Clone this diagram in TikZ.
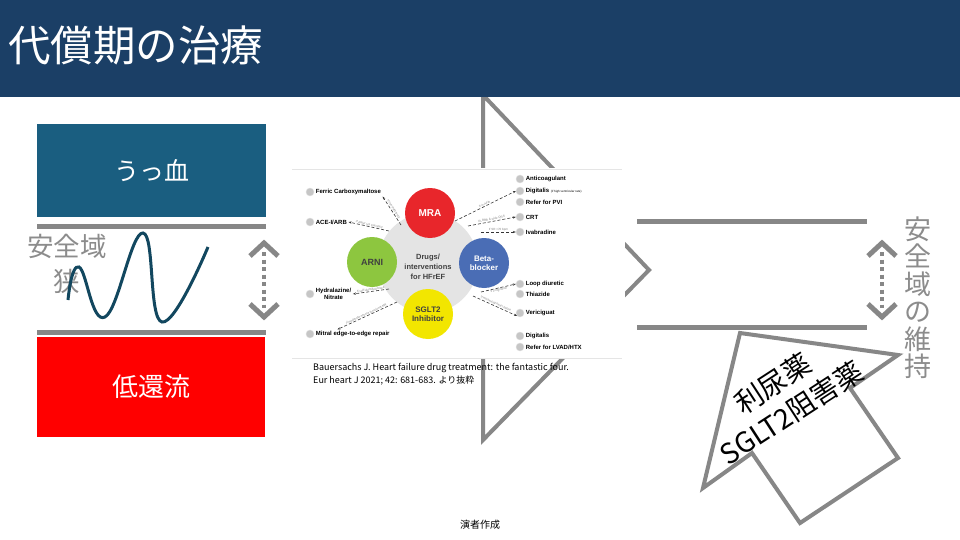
\documentclass[tikz,border=0pt]{standalone}
\usepackage{fontspec}
\setmainfont{Liberation Sans}
\newfontfamily\jp{Noto Sans CJK JP}
\usetikzlibrary{calc,arrows.meta}

\definecolor{headblue}{HTML}{1B3F66}
\definecolor{congblue}{HTML}{1A5E80}
\definecolor{wavecol}{HTML}{12475F}
\definecolor{linegray}{HTML}{878787}
\definecolor{textgray}{HTML}{8C8C8C}
\definecolor{mrared}{HTML}{E8262B}
\definecolor{arnigreen}{HTML}{8DC63F}
\definecolor{betablue}{HTML}{4A6DB5}
\definecolor{sgltyellow}{HTML}{F2E600}
\definecolor{hubgray}{HTML}{E4E4E4}

\begin{document}
\begin{tikzpicture}[x=1pt,y=-1pt,
    gapline/.style={linegray,line width=5pt},
    chev/.style={linegray,line width=5pt},
    dots/.style={linegray,line width=4pt,dash pattern=on 4pt off 3.5pt},
    outline/.style={linegray,line width=4pt,line join=miter},
    drugdot/.style={circle,inner sep=0pt,minimum size=50pt,text=white,align=center,
        font=\bfseries\fontsize{8}{9}\selectfont},
    icon/.style={circle,fill=gray!45,draw=gray!25,line width=0.4pt,inner sep=0pt,minimum size=8pt},
    druglbl/.style={anchor=west,inner sep=1.5pt,font=\bfseries\fontsize{6}{7.5}\selectfont},
    cond/.style={sloped,above,inner sep=0.5pt,font=\fontsize{3}{3.5}\selectfont,text=gray},
    dasharr/.style={densely dashed,-{Stealth[length=3pt]},line width=0.6pt,black!80}
]
\useasboundingbox (0,0) rectangle (960,540);
\fill[white] (0,0) rectangle (960,540);

% big arrow head behind the figure
\draw[outline] (483,95) -- (649,270) -- (483,440) -- cycle;

% header
\fill[headblue] (0,0) rectangle (960,97);
\node[anchor=west,inner sep=0pt,text=white,font=\jp\fontsize{42.5}{42.5}\selectfont] (title) at (8,45) {代償期の治療};

% left: narrow safe zone
\node[fill=congblue,minimum width=229pt,minimum height=93pt,inner sep=0pt,text=white,
    font=\jp\fontsize{25}{25}\selectfont] (cong) at (151.5,170.5) {うっ血};
\node[fill=red,minimum width=228pt,minimum height=100pt,inner sep=0pt,text=white,
    font=\jp\fontsize{26}{26}\selectfont] (lowflow) at (151,387) {低還流};
\fill[linegray] (37,224) rectangle (266,229);
\fill[linegray] (37,330) rectangle (266,335);
\node[text=textgray,align=center,inner sep=0pt,font=\jp\fontsize{26.5}{35}\selectfont] (narrow) at (67,264) {安全域\\狭};
\draw[wavecol,line width=3pt] plot[smooth,tension=0.75] coordinates
    {(68,300) (79,267) (105,317) (143,233) (162,322) (208,247)};

\coordinate (ltop) at (264,243);
\coordinate (lbot) at (264,317);
\draw[chev] ($(ltop)+(-14,13)$) -- (ltop) -- ($(ltop)+(14,13)$);
\draw[chev] ($(lbot)+(-14,-13)$) -- (lbot) -- ($(lbot)+(14,-13)$);
\draw[dots] ($(ltop)+(0,9)$) -- ($(lbot)+(0,-9)$);

% figure (Bauersachs)
\fill[white] (290,168) rectangle (625,358);
\draw[gray!20,line width=0.6pt] (292,169) -- (622,169);
\draw[gray!20,line width=0.6pt] (292,358) -- (622,358);
\fill[hubgray] (428,263) circle[radius=50pt];
\node[drugdot,fill=mrared,font=\bfseries\fontsize{10}{11}\selectfont] (mra) at (430,213) {MRA};
\node[drugdot,fill=arnigreen,text=black!75,font=\bfseries\fontsize{9}{10}\selectfont] (arni) at (372,262) {ARNI};
\node[drugdot,fill=betablue] (beta) at (484,263) {Beta-\\blocker};
\node[drugdot,fill=sgltyellow,text=black!75] (sglt) at (428,314) {SGLT2\\Inhibitor};
\node[align=center,text=black!75,font=\bfseries\fontsize{7.5}{10}\selectfont] (hub) at (428,267) {Drugs/\\interventions\\for HFrEF};

\node[icon] (iferric) at (310,192) {};
\node[druglbl] (ferric) at (iferric.east) {Ferric Carboxymaltose};
\node[icon] (iace) at (310,222) {};
\node[druglbl] (ace) at (iace.east) {ACE-I/ARB};
\node[icon] (ihydra) at (310,294) {};
\node[druglbl,align=center] (hydra) at (ihydra.east) {Hydralazine/\\Nitrate};
\node[icon] (imitral) at (310,334) {};
\node[druglbl] (mitral) at (imitral.east) {Mitral edge-to-edge repair};

\node[icon] (ianti) at (520,179) {};
\node[druglbl] (anti) at (ianti.east) {Anticoagulant};
\node[icon] (idig) at (520,191) {};
\node[druglbl] (dig) at (idig.east) {Digitalis {\mdseries\fontsize{3}{3}\selectfont (if high ventricular rate)}};
\node[icon] (ipvi) at (520,202) {};
\node[druglbl] (pvi) at (ipvi.east) {Refer for PVI};
\node[icon] (icrt) at (520,217) {};
\node[druglbl] (crt) at (icrt.east) {CRT};
\node[icon] (iivab) at (520,232) {};
\node[druglbl] (ivab) at (iivab.east) {Ivabradine};
\node[icon] (iloop) at (520,284) {};
\node[druglbl] (loop) at (iloop.east) {Loop diuretic};
\node[icon] (ithia) at (520,294) {};
\node[druglbl] (thia) at (ithia.east) {Thiazide};
\node[icon] (iveri) at (520,313) {};
\node[druglbl] (veri) at (iveri.east) {Vericiguat};
\node[icon] (idig2) at (520,336) {};
\node[druglbl] (dig2) at (idig2.east) {Digitalis};
\node[icon] (ilvad) at (520,347) {};
\node[druglbl] (lvad) at (ilvad.east) {Refer for LVAD/HTX};

\coordinate (tferric) at (401,225);
\coordinate (tace) at (389,231);
\coordinate (thydra) at (389,289);
\coordinate (tmitral) at (397,302);
\coordinate (tdig) at (455,221);
\coordinate (tcrt) at (468,226);
\coordinate (tivab) at (481,232);
\coordinate (tloop) at (481,292);
\coordinate (tveri) at (473,296);
\draw[dasharr] (tferric) -- node[cond] {If iron deficiency} (ferric.south east);
\draw[dasharr] (tace) -- node[cond] {If ARNI not tolerated} (ace.east);
\draw[dasharr] (thydra) -- node[cond] {If self identified black} (hydra.east);
\draw[dasharr] (tmitral) -- node[cond] {If moderate-severe functional MR}
    ($(mitral.north west)!0.3!(mitral.north east)$);
\draw[dasharr] (tdig) -- node[cond] {If in AFib} (idig.west);
\draw[dasharr] (tcrt) -- node[cond] {If LBBB \& wide QRS} (icrt.west);
\draw[dasharr] (tivab) -- node[cond] {If SR >70 bpm} (iivab.west);
\draw[dasharr] (tloop) -- node[cond,below] {If congestion} (iloop.west);
\draw[dasharr] (tveri) -- node[cond] {If worsening heart failure} (iveri.south west);

\node[anchor=west,align=left,inner sep=0pt,font=\jp\fontsize{9}{13}\selectfont] (cite) at (313,374.5)
    {Bauersachs J. Heart failure drug treatment: the fantastic four.\\Eur heart J 2021; 42: 681-683. より抜粋};

% right: safe zone kept
\draw[gapline] (637,221) -- (867,221);
\draw[gapline] (637,327) -- (867,327);
\coordinate (rtop) at (882,243);
\coordinate (rbot) at (882,317);
\draw[chev] ($(rtop)+(-14,13)$) -- (rtop) -- ($(rtop)+(14,13)$);
\draw[chev] ($(rbot)+(-14,-13)$) -- (rbot) -- ($(rbot)+(14,-13)$);
\draw[dots] ($(rtop)+(0,9)$) -- ($(rbot)+(0,-9)$);
\node[text=textgray,align=center,inner sep=0pt,font=\jp\fontsize{27}{27.5}\selectfont] (keep) at (918,297.5)
    {安\\全\\域\\の\\維\\持};

\draw[outline,fill=white] (740,333) -- (898,355) -- (850,388) -- (898,458) -- (800,523) -- (752,453) -- (703,488) -- cycle;
\node[rotate=33,align=center,inner sep=0pt,font=\jp\fontsize{28}{34.7}\selectfont] (drug) at (782,398)
    {利尿薬\\SGLT2阻害薬};

\node[font=\jp\fontsize{10}{12}\selectfont] (credit) at (480,525) {演者作成};
\end{tikzpicture}
\end{document}
